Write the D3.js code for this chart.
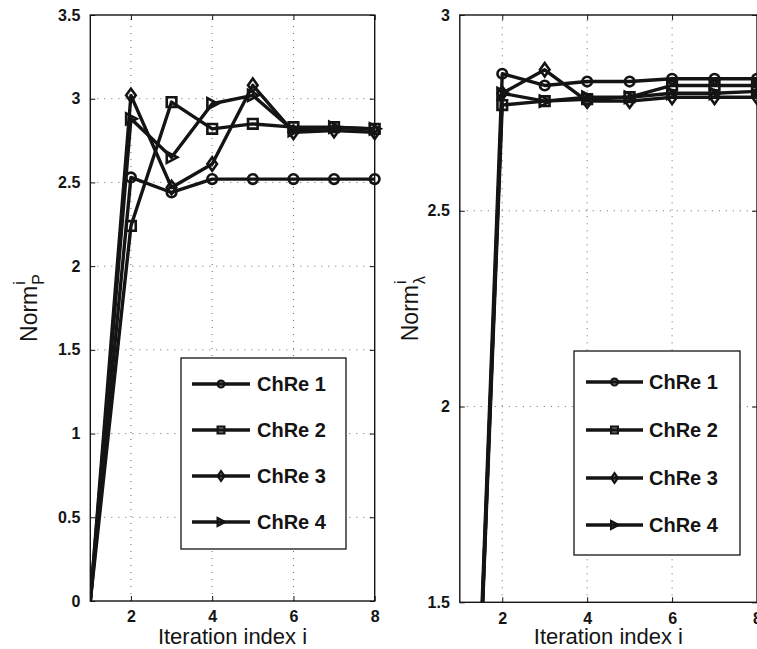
<!DOCTYPE html>
<html><head><meta charset="utf-8">
<script src="https://cdn.jsdelivr.net/npm/d3@7"></script>
<style>
html,body{margin:0;padding:0;background:#fff;}
svg{display:block;font-family:"Liberation Sans",Arial,Helvetica,sans-serif;}
</style></head>
<body><svg id="chart" width="757" height="649"></svg>
<script>
// ---- data ----
const iterations = [1, 2, 3, 4, 5, 6, 7, 8];
const seriesNames = ["ChRe 1", "ChRe 2", "ChRe 3", "ChRe 4"];
const markerTypes = ["circle", "square", "diamond", "triangle"];

const normP_ChRe1 = [0, 2.53, 2.44, 2.52, 2.52, 2.52, 2.52, 2.52];
const normP_ChRe2 = [0, 2.24, 2.98, 2.82, 2.85, 2.83, 2.83, 2.82];
const normP_ChRe3 = [0, 3.02, 2.47, 2.61, 3.08, 2.80, 2.81, 2.80];
const normP_ChRe4 = [0, 2.88, 2.65, 2.97, 3.02, 2.81, 2.83, 2.82];

const normL_ChRe1 = [0, 2.85, 2.82, 2.83, 2.83, 2.837, 2.837, 2.837];
const normL_ChRe2 = [0, 2.77, 2.78, 2.785, 2.79, 2.82, 2.82, 2.82];
const normL_ChRe3 = [0, 2.80, 2.86, 2.78, 2.78, 2.79, 2.79, 2.79];
const normL_ChRe4 = [0, 2.80, 2.78, 2.79, 2.79, 2.80, 2.80, 2.805];

const xTicks = [2, 4, 6, 8];
const yTicksP = [0, 0.5, 1, 1.5, 2, 2.5, 3, 3.5];
const yTicksL = [1.5, 2, 2.5, 3];

// ---- drawing ----
const svg = d3.select("#chart");
const INK = "#141414";

function markerPath(type, s) {
  const p = d3.path();
  if (type === "circle") { p.moveTo(s, 0); p.arc(0, 0, s, 0, 2 * Math.PI); }
  else if (type === "square") { p.rect(-s, -s, 2 * s, 2 * s); }
  else if (type === "diamond") { const h = s * 1.4; p.moveTo(0, -h); p.lineTo(s, 0); p.lineTo(0, h); p.lineTo(-s, 0); p.closePath(); }
  else { p.moveTo(-s, -s * 1.15); p.lineTo(s * 1.2, 0); p.lineTo(-s, s * 1.15); p.closePath(); }
  return p.toString();
}

function panel(cfg) {
  const x = d3.scaleLinear().domain([1, 8]).range([cfg.x0, cfg.x1]);
  const y = d3.scaleLinear().domain(cfg.yDomain).range([cfg.y0, cfg.y1]);
  const g = svg.append("g");
  const id = "clip" + cfg.key;
  svg.append("clipPath").attr("id", id).append("rect")
    .attr("x", cfg.x0).attr("y", cfg.y1).attr("width", cfg.x1 - cfg.x0).attr("height", cfg.y0 - cfg.y1);

  // grid
  g.append("g").selectAll("line").data(xTicks.filter(t => t < 8)).join("line")
    .attr("x1", d => x(d)).attr("x2", d => x(d)).attr("y1", cfg.y0).attr("y2", cfg.y1)
    .attr("stroke", "#666").attr("stroke-width", 1).attr("stroke-dasharray", "1,6");
  g.append("g").selectAll("line").data(cfg.yTicks.filter(t => t !== cfg.yDomain[0] && t !== cfg.yDomain[1])).join("line")
    .attr("x1", cfg.x0).attr("x2", cfg.x1).attr("y1", d => y(d)).attr("y2", d => y(d))
    .attr("stroke", "#666").attr("stroke-width", 1).attr("stroke-dasharray", "1,6");

  // axes
  const axL = d3.axisLeft(y).tickValues(cfg.yTicks).tickSize(-5).tickPadding(10).tickFormat(d3.format("~g"));
  const axR = d3.axisRight(y).tickValues(cfg.yTicks).tickSize(-5).tickFormat("");
  const axB = d3.axisBottom(x).tickValues(xTicks).tickSize(-5).tickPadding(10).tickFormat(d3.format("d"));
  const axT = d3.axisTop(x).tickValues(xTicks).tickSize(-5).tickFormat("");
  const styleAx = sel => {
    sel.select(".domain").remove();
    sel.selectAll(".tick line").attr("stroke", INK).attr("stroke-width", 1);
    sel.selectAll(".tick text").attr("fill", INK).attr("font-size", 16).attr("font-weight", "bold")
      .attr("font-family", "'Liberation Sans',Arial,sans-serif");
  };
  g.append("g").attr("transform", `translate(${cfg.x0},0)`).call(axL).call(styleAx);
  g.append("g").attr("transform", `translate(${cfg.x1},0)`).call(axR).call(styleAx);
  g.append("g").attr("transform", `translate(0,${cfg.y0})`).call(axB).call(styleAx);
  g.append("g").attr("transform", `translate(0,${cfg.y1})`).call(axT).call(styleAx);

  // box
  g.append("rect").attr("x", cfg.x0).attr("y", cfg.y1).attr("width", cfg.x1 - cfg.x0).attr("height", cfg.y0 - cfg.y1)
    .attr("fill", "none").attr("stroke", INK).attr("stroke-width", 1.4);

  // series
  const line = d3.line().x((d, i) => x(iterations[i])).y(d => y(d));
  cfg.series.forEach((vals, si) => {
    g.append("path").attr("d", line(vals)).attr("clip-path", `url(#${id})`)
      .attr("fill", "none").attr("stroke", INK).attr("stroke-width", 3.4).attr("stroke-linejoin", "round");
    g.append("g").selectAll("path").data(vals.map((v, i) => ({ v, i })).filter(d => d.i > 0)).join("path")
      .attr("transform", d => `translate(${x(iterations[d.i])},${y(d.v)})`)
      .attr("d", markerPath(markerTypes[si], 4.8))
      .attr("fill", "none").attr("stroke", INK).attr("stroke-width", 2.6);
  });

  // legend
  const L = cfg.legend;
  const lg = g.append("g");
  lg.append("rect").attr("x", L.x).attr("y", L.y).attr("width", L.w).attr("height", L.h)
    .attr("fill", "#fff").attr("stroke", INK).attr("stroke-width", 1.3);
  seriesNames.forEach((name, si) => {
    const ry = L.rows[si];
    lg.append("line").attr("x1", L.lx0).attr("x2", L.lx1).attr("y1", ry).attr("y2", ry)
      .attr("stroke", INK).attr("stroke-width", 3.4);
    lg.append("path").attr("transform", `translate(${(L.lx0 + L.lx1) / 2},${ry})`)
      .attr("d", markerPath(markerTypes[si], 3.4)).attr("fill", "none").attr("stroke", INK).attr("stroke-width", 2.2);
    lg.append("text").attr("x", L.tx).attr("y", ry + 7).attr("font-size", 20).attr("font-weight", "bold")
      .attr("fill", INK).text(name);
  });

  // x label
  svg.append("text").attr("x", (cfg.x0 + cfg.x1) / 2).attr("y", 644).attr("text-anchor", "middle")
    .attr("font-size", 22).attr("fill", INK).text("Iteration index i");

  // y label (rotated) with stacked super/subscripts
  const yl = svg.append("g").attr("transform", `translate(${cfg.ylx},${(cfg.y0 + cfg.y1) / 2}) rotate(-90)`);
  const main = yl.append("text").attr("font-size", 23).attr("fill", INK).text("Norm");
  const wMain = main.node().getComputedTextLength();
  const sup = yl.append("text").attr("font-size", 16).attr("fill", INK).text("i");
  const sub = yl.append("text").attr("font-size", 16).attr("fill", INK).text(cfg.sub);
  const wSub = Math.max(sub.node().getComputedTextLength(), sup.node().getComputedTextLength());
  const total = wMain + 1 + wSub;
  main.attr("x", -total / 2).attr("y", 0);
  sup.attr("x", -total / 2 + wMain + 1).attr("y", -12);
  sub.attr("x", -total / 2 + wMain + 1).attr("y", 7);
}

panel({
  key: "P", x0: 90.3, x1: 374.7, y0: 601, y1: 15, yDomain: [0, 3.5], yTicks: yTicksP,
  series: [normP_ChRe1, normP_ChRe2, normP_ChRe3, normP_ChRe4], sub: "P", ylx: 37,
  legend: { x: 181, y: 358, w: 165, h: 191, rows: [384, 430, 476, 522], lx0: 192, lx1: 250, tx: 257 }
});
panel({
  key: "L", x0: 459.8, x1: 757, y0: 602.3, y1: 15, yDomain: [1.5, 3], yTicks: yTicksL,
  series: [normL_ChRe1, normL_ChRe2, normL_ChRe3, normL_ChRe4], sub: "λ", ylx: 418,
  legend: { x: 574, y: 351, w: 166, h: 204, rows: [382, 430, 478, 525], lx0: 586, lx1: 643, tx: 649 }
});
</script></body></html>
